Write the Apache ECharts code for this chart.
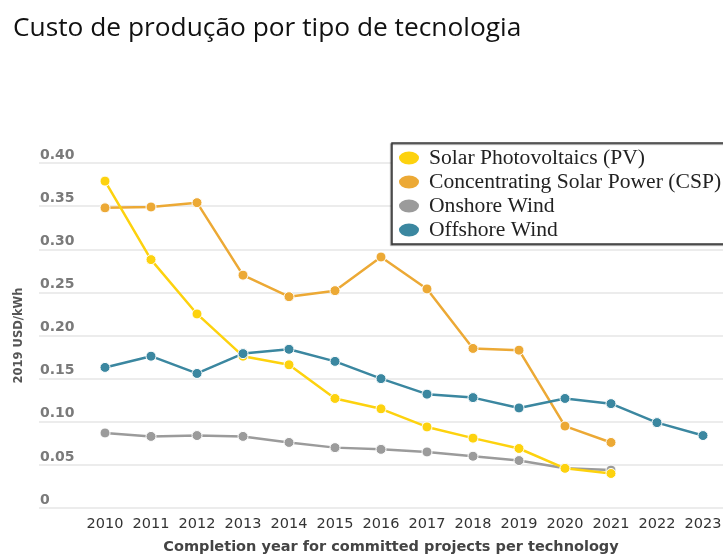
<!DOCTYPE html>
<html>
<head>
<meta charset="utf-8">
<script src="https://cdn.jsdelivr.net/npm/echarts@6/dist/echarts.min.js"></script>
<style>
  html, body { margin: 0; padding: 0; background: #fff; }
  #chart { width: 723px; height: 555px; }
</style>
</head>
<body>
<div id="chart"></div>
<script>
// dados
const anos = [2010, 2011, 2012, 2013, 2014, 2015, 2016, 2017, 2018, 2019, 2020, 2021, 2022, 2023];
const pv = [0.379, 0.288, 0.225, 0.176, 0.166, 0.127, 0.115, 0.094, 0.081, 0.069, 0.046, 0.040];
const csp = [0.348, 0.349, 0.354, 0.270, 0.245, 0.252, 0.291, 0.254, 0.185, 0.183, 0.095, 0.076];
const onshore = [0.087, 0.083, 0.084, 0.083, 0.076, 0.070, 0.068, 0.065, 0.060, 0.055, 0.046, 0.044];
const offshore = [0.163, 0.176, 0.156, 0.179, 0.184, 0.170, 0.150, 0.132, 0.128, 0.116, 0.127, 0.121, 0.099, 0.084];
const yTicks = [0, 0.05, 0.10, 0.15, 0.20, 0.25, 0.30, 0.35, 0.40];

const nomes = ['Solar Photovoltaics (PV)', 'Concentrating Solar Power (CSP)', 'Onshore Wind', 'Offshore Wind'];
const cores = ['#fdd20e', '#eca935', '#9b9b9b', '#3b87a0'];
const valores = [pv, csp, onshore, offshore];

function pares(arr) {
    return arr.map((v, i) => [anos[i], v]);
}

// elipse usada como ícone da legenda
const elipse = 'path://M0,7.5A11,7.5,0,1,1,22,7.5A11,7.5,0,1,1,0,7.5z';

const chart = echarts.init(document.getElementById('chart'));
const option = {
    animation: false,
    title: {
        text: 'Custo de produção por tipo de tecnologia',
        left: 8,
        top: 11,
        textStyle: {
            fontFamily: 'Open Sans',
            fontSize: 26.3,
            fontWeight: 'normal',
            color: '#111'
        }
    },
    legend: {
        orient: 'vertical',
        left: 392,
        top: 143,
        data: nomes,
        icon: elipse,
        itemWidth: 22,
        itemHeight: 15,
        itemGap: 2,
        padding: [4, 12, 3, 5],
        backgroundColor: '#fff',
        borderColor: '#3a3a3a',
        borderWidth: 1.5,
        shadowColor: 'rgba(0,0,0,0.5)',
        shadowOffsetX: -1,
        shadowOffsetY: 1,
        shadowBlur: 1,
        textStyle: {
            fontFamily: 'Liberation Serif',
            fontSize: 21.6,
            lineHeight: 21,
            height: 21,
            color: '#222',
            padding: [0, 0, 0, 4]
        }
    },
    grid: {
        left: 39,
        right: 0,
        top: 163,
        bottom: 47,
        outerBoundsMode: 'none'
    },
    xAxis: {
        type: 'value',
        min: 2008.565,
        max: 2023.435,
        name: 'Completion year for committed projects per technology',
        nameLocation: 'middle',
        nameGap: 32,
        nameTextStyle: {
            fontFamily: 'DejaVu Sans',
            fontSize: 14.5,
            fontWeight: 'bold',
            color: '#444',
            padding: [0, 0, 0, 20]
        },
        axisLine: { show: false },
        axisTick: { show: false },
        splitLine: { show: false },
        axisLabel: {
            customValues: anos,
            formatter: v => String(v),
            margin: 9,
            fontFamily: 'DejaVu Sans',
            fontSize: 14.5,
            color: '#333'
        }
    },
    yAxis: {
        type: 'value',
        min: 0,
        max: 0.4,
        interval: 0.05,
        name: '2019 USD/kWh',
        nameLocation: 'middle',
        nameGap: 14,
        nameTextStyle: {
            fontFamily: 'DejaVu Sans',
            fontSize: 11.5,
            fontWeight: 'bold',
            color: '#555'
        },
        axisLine: { show: false },
        axisTick: { show: false },
        splitLine: { lineStyle: { color: '#ececec', width: 2 } },
        axisLabel: {
            inside: true,
            margin: 1,
            verticalAlign: 'bottom',
            padding: [0, 0, 1, 0],
            fontFamily: 'DejaVu Sans',
            fontSize: 14,
            fontWeight: 'bold',
            color: '#7a7a7a',
            formatter: v => {
                const t = yTicks.find(k => Math.abs(k - v) < 1e-6);
                return t === 0 ? '0' : t.toFixed(2);
            }
        }
    },
    series: nomes.map((n, i) => ({
        name: n,
        type: 'line',
        data: pares(valores[i]),
        z: i === 0 ? 6 : 3 + i,
        symbol: 'circle',
        symbolSize: 10,
        lineStyle: { color: cores[i], width: 2.5 },
        itemStyle: { color: cores[i], borderColor: '#fff', borderWidth: 1 }
    }))
};
chart.setOption(option);
</script>
</body>
</html>
